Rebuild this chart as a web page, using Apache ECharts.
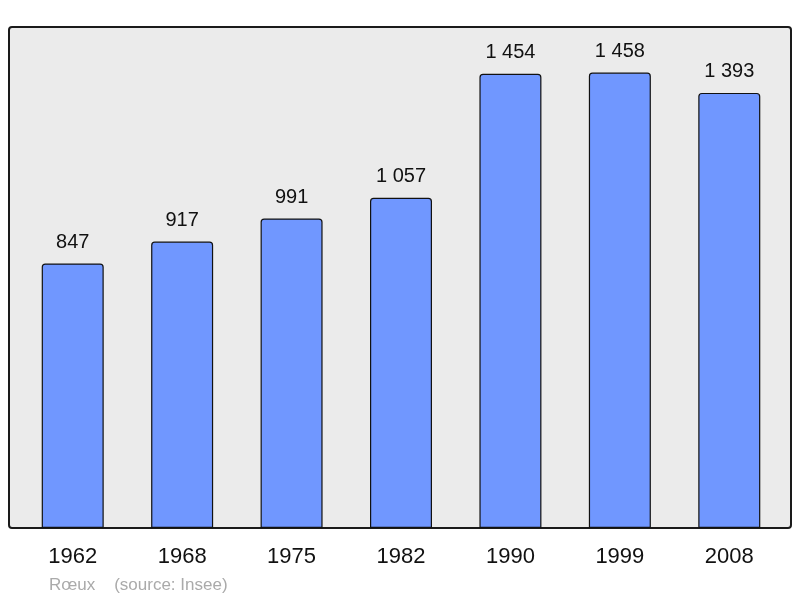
<!DOCTYPE html>
<html><head><meta charset="utf-8">
<script src="https://cdn.jsdelivr.net/npm/echarts@6/dist/echarts.min.js"></script>
<style>html,body{margin:0;padding:0;background:#fff}#c{width:800px;height:598px}</style>
</head><body><div id="c"></div>
<script>
var years = ['1962','1968','1975','1982','1990','1999','2008'];
var population = [847, 917, 991, 1057, 1454, 1458, 1393];
var footerText = 'Rœux    (source: Insee)';

function fmt(v){ return String(v).replace(/\B(?=(\d{3})+(?!\d))/g, ' '); }

var chart = echarts.init(document.getElementById('c'), null, {renderer:'canvas'});
chart.setOption({
  animation:false,
  backgroundColor:'#ffffff',
  textStyle:{fontFamily:'Liberation Sans, Arial, sans-serif'},
  graphic:[
    {type:'rect', z:-10, shape:{x:9,y:27,width:782,height:501,r:3},
     style:{fill:'#ebebeb', stroke:'#1a1a1a', lineWidth:2}},
    {type:'text', left:49, top:577, style:{text:footerText, fill:'#aaaaaa', font:'17px "Liberation Sans", Arial, sans-serif'}}
  ],
  grid:{left:18, right:16, top:27, bottom:70},
  xAxis:{type:'category', data:years, axisLine:{show:false}, axisTick:{show:false},
    axisLabel:{color:'#111', fontSize:22, margin:18, fontFamily:'Liberation Sans, Arial, sans-serif'}},
  yAxis:{type:'value', min:0, max:1604, show:false, splitLine:{show:false}},
  series:[{type:'bar', data:population, barWidth:62,
    itemStyle:{color:'#7097ff', borderColor:'#111', borderWidth:1.2, borderRadius:[3,3,0,0]},
    label:{show:true, position:'top', distance:11, color:'#111', fontSize:20,
      fontFamily:'Liberation Sans, Arial, sans-serif', formatter:function(p){return fmt(p.value);}}
  }]
});
</script></body></html>
